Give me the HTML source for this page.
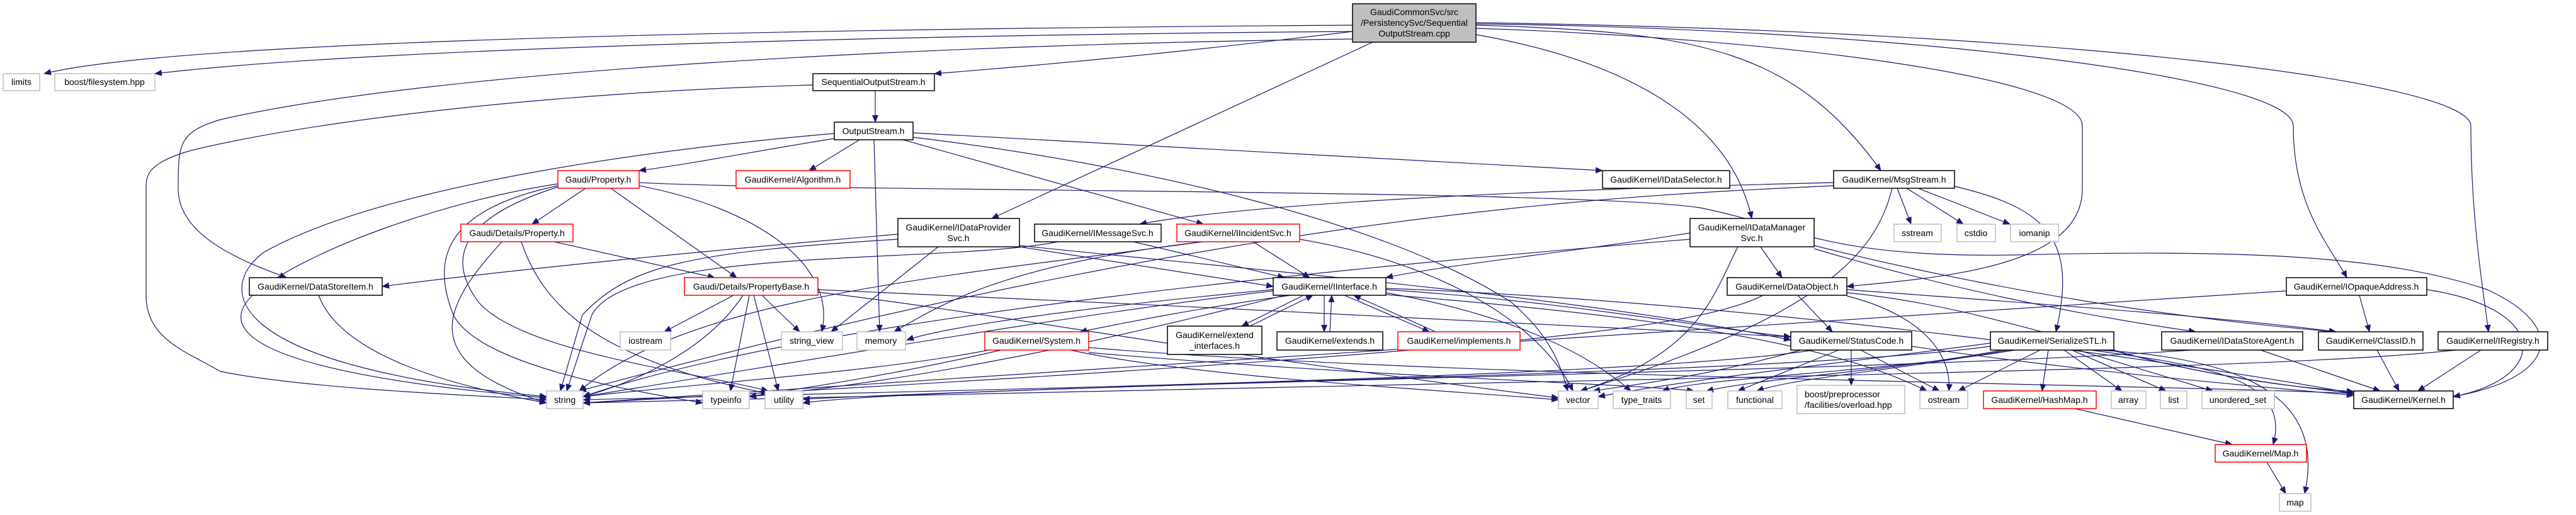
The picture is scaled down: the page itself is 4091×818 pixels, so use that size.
<!DOCTYPE html>
<html><head><meta charset="utf-8"><style>
html,body{margin:0;padding:0;background:#fff;}
svg{display:block;}
text{font-family:"Liberation Sans",sans-serif;font-size:14px;fill:#000;}
.e{fill:none;stroke:#191970;stroke-width:1.2;marker-end:url(#a);}
.g{fill:#fff;stroke:#bfbfbf;stroke-width:1.5;}
.b{fill:#fff;stroke:#000;stroke-width:1.5;}
.r{fill:#fff;stroke:#ff0000;stroke-width:1.5;}
</style></head><body>
<svg width="4091" height="818" viewBox="0 0 4091 818" xmlns="http://www.w3.org/2000/svg">
<defs><marker id="a" markerWidth="12" markerHeight="10" refX="11" refY="5" orient="auto" markerUnits="userSpaceOnUse"><path d="M0,0 L12,5 L0,10 z" fill="#191970"/></marker></defs>
<g>
<!-- edges from main cpp -->
<path class="e" d="M2148,40 C1400,45 300,60 70,117"/>
<path class="e" d="M2148,50 C1500,55 600,75 246,117"/>
<path class="e" d="M2148,62 C1500,70 700,110 350,190 C283,210 283,230 283,300 C283,380 400,420 455,441"/>
<path class="e" d="M2148,50 C1900,80 1700,100 1484,117"/>
<path class="e" d="M2180,67 L1575,347"/>
<path class="e" d="M2344,55 C2600,100 2750,200 2782,347"/>
<path class="e" d="M2344,40 C2700,50 2850,80 2987,271"/>
<path class="e" d="M2344,45 C2800,60 3307,120 3307,200 L3307,300 C3307,420 3100,440 2933,455"/>
<path class="e" d="M2344,38 C3000,45 3642,120 3642,200 C3642,330 3700,390 3727,441"/>
<path class="e" d="M2344,36 C3300,50 3924,130 3924,200 C3924,350 3945,470 3952,527"/>
<!-- SeqOS -->
<path class="e" d="M1390,144 L1390,194"/>
<path class="e" d="M1291,135 C900,145 500,190 300,240 C232,260 232,280 232,300 L232,470 C232,540 300,560 350,590 C500,620 800,630 868,635"/>
<!-- OutputStream -->
<path class="e" d="M1325,220 C1200,240 1100,260 1015,271"/>
<path class="e" d="M1365,222 L1285,271"/>
<path class="e" d="M1388,222 L1397,527"/>
<path class="e" d="M1434,222 L1911,356"/>
<path class="e" d="M1450,211 L2545,271"/>
<path class="e" d="M1450,218 C1800,260 2200,350 2400,480 C2470,540 2480,590 2490,621"/>
<path class="e" d="M1325,212 C1000,240 600,300 420,400 C350,450 330,580 868,630"/>
<!-- Property.h -->
<path class="e" d="M930,299 L845,356"/>
<path class="e" d="M970,299 L1170,441"/>
<path class="e" d="M1015,295 C1200,330 1330,420 1305,527"/>
<path class="e" d="M886,292 C700,320 480,400 400,470 C350,520 380,590 868,632"/>
<path class="e" d="M886,295 C720,330 680,400 720,500 C760,580 1000,620 1116,640"/>
<path class="e" d="M886,297 C750,340 700,400 760,480 C830,560 1100,590 1220,621"/>
<path class="e" d="M1015,290 C1300,305 2500,300 2700,330 C2850,360 2900,410 3200,405 C3600,395 3800,410 3950,460 C4080,520 4060,600 3896,630"/>
<!-- Details/Property -->
<path class="e" d="M880,384 L1135,441"/>
<path class="e" d="M797,384 C720,470 640,570 868,640"/>
<path class="e" d="M828,384 C860,480 940,570 1220,625"/>
<!-- DataStoreItem -->
<path class="e" d="M506,469 C540,560 700,610 868,640"/>
<!-- PropertyBase -->
<path class="e" d="M1165,469 L1055,527"/>
<path class="e" d="M1210,469 L1270,527"/>
<path class="e" d="M1190,469 L1160,621"/>
<path class="e" d="M1197,469 L1236,621"/>
<path class="e" d="M1180,469 C1120,560 1000,610 926,630"/>
<path class="e" d="M1299,460 C1800,480 2500,520 2844,535"/>
<path class="e" d="M1299,464 C1600,500 1900,560 2475,632"/>
<!-- IDataProviderSvc -->
<path class="e" d="M1619,392 L2022,455"/>
<path class="e" d="M1490,392 L1320,527"/>
<path class="e" d="M1426,372 C1100,400 800,430 607,455"/>
<path class="e" d="M1426,380 C1100,400 1000,420 925,500 L890,621"/>
<path class="e" d="M1619,390 C2000,430 2500,470 2844,540"/>
<!-- IMessageSvc -->
<path class="e" d="M1800,384 L2040,441"/>
<path class="e" d="M1680,384 C1500,420 1000,390 940,500 L900,621"/>
<!-- IIncidentSvc -->
<path class="e" d="M1990,384 L2080,441"/>
<path class="e" d="M2064,380 C2300,420 2450,520 2498,621"/>
<path class="e" d="M1910,384 C1600,420 1500,480 1420,527"/>
<path class="e" d="M1910,384 C1500,440 1100,470 920,621"/>
<!-- IDataManagerSvc -->
<path class="e" d="M2684,370 C2500,400 2300,420 2201,441"/>
<path class="e" d="M2796,392 L2830,441"/>
<path class="e" d="M2881,390 C3200,470 3500,510 3710,527"/>
<path class="e" d="M2881,395 C3100,460 3300,500 3487,527"/>
<path class="e" d="M2760,392 C2720,470 2700,560 2510,621"/>
<path class="e" d="M2684,380 C2200,420 1300,500 926,630"/>
<!-- MsgStream -->
<path class="e" d="M3013,299 L3035,356"/>
<path class="e" d="M3028,299 L3118,356"/>
<path class="e" d="M3046,299 L3192,356"/>
<path class="e" d="M3104,296 C3250,330 3300,380 3265,527"/>
<path class="e" d="M2912,290 C2500,300 2000,320 1810,356"/>
<path class="e" d="M2912,295 C2600,310 2000,330 920,621"/>
<path class="e" d="M3005,299 C2980,400 2900,500 2510,621"/>
<!-- DataObject -->
<path class="e" d="M2855,469 L2910,527"/>
<path class="e" d="M2933,460 C3200,480 3500,500 3710,527"/>
<path class="e" d="M2933,470 C3050,500 3100,560 3095,621"/>
<path class="e" d="M2800,469 C2700,520 2400,560 926,640"/>
<path class="e" d="M2933,465 C3200,490 3400,600 3738,622"/>
<!-- IOpaqueAddress -->
<path class="e" d="M3747,469 L3763,527"/>
<path class="e" d="M3854,460 C4050,490 4050,600 3896,630"/>
<path class="e" d="M3631,462 C3200,490 2800,520 926,640"/>
<!-- IRegistry / ClassID / IDataStoreAgent -->
<path class="e" d="M3940,556 L3840,621"/>
<path class="e" d="M3900,556 C3600,590 2600,600 926,640"/>
<path class="e" d="M3775,556 L3810,621"/>
<path class="e" d="M3590,556 L3780,621"/>
<path class="e" d="M3480,556 C3000,590 2000,600 1275,634"/>
<!-- StatusCode -->
<path class="e" d="M2920,556 L2760,621"/>
<path class="e" d="M2940,556 L2940,612"/>
<path class="e" d="M2955,556 L3080,621"/>
<path class="e" d="M3036,550 C3300,590 3600,615 3738,628"/>
<path class="e" d="M2880,556 C2600,600 1500,620 926,635"/>
<path class="e" d="M2860,556 C2700,600 2600,610 2530,621"/>
<!-- SerializeSTL -->
<path class="e" d="M3240,556 L3110,621"/>
<path class="e" d="M3253,556 L3243,621"/>
<path class="e" d="M3278,556 L3370,621"/>
<path class="e" d="M3290,556 L3440,621"/>
<path class="e" d="M3300,556 L3514,621"/>
<path class="e" d="M3320,556 C3500,580 3640,600 3610,706"/>
<path class="e" d="M3330,556 C3600,570 3690,650 3660,784"/>
<path class="e" d="M3357,556 C3500,600 3700,620 3738,625"/>
<path class="e" d="M3161,550 C2800,600 1500,610 1275,640"/>
<path class="e" d="M3161,545 C2900,580 2700,600 2538,630"/>
<path class="e" d="M3180,556 C3000,590 2800,600 2710,621"/>
<path class="e" d="M3200,556 C3000,590 2700,600 2640,621"/>
<path class="e" d="M3190,556 C3000,590 2850,600 2790,621"/>
<!-- HashMap / Map -->
<path class="e" d="M3295,649 L3545,706"/>
<path class="e" d="M3600,734 L3630,784"/>
<!-- IInterface -->
<path class="e" d="M2050,469 C1900,490 1800,510 1715,527"/>
<path class="e" d="M2070,469 L1972,518"/>
<path class="e" d="M1985,518 L2085,469"/>
<path class="e" d="M2103,469 L2103,527"/>
<path class="e" d="M2112,527 L2115,469"/>
<path class="e" d="M2135,469 L2270,527"/>
<path class="e" d="M2280,527 L2150,469"/>
<path class="e" d="M2201,465 C2400,500 2520,560 2590,621"/>
<path class="e" d="M2022,460 C1700,490 1500,520 1440,540"/>
<path class="e" d="M2022,462 C1700,500 1300,570 926,630"/>
<path class="e" d="M2040,469 C1800,530 1500,600 1190,630"/>
<path class="e" d="M2201,460 C2500,480 2700,520 2844,535"/>
<path class="e" d="M2201,458 C2800,480 3500,580 3738,625"/>
<path class="e" d="M2201,468 C2600,500 2900,540 3060,621"/>
<!-- System.h -->
<path class="e" d="M1570,556 C1400,590 1100,610 926,630"/>
<path class="e" d="M1590,556 C1400,600 1250,620 1190,630"/>
<path class="e" d="M1700,556 C1900,600 2300,620 2475,635"/>
<path class="e" d="M1729,552 C2300,600 3400,610 3738,625"/>
<path class="e" d="M1729,560 C2200,600 2600,610 2690,621"/>
</g>
<!-- nodes -->
<g>
<rect class="b" x="2148" y="6" width="196" height="61" fill="#bfbfbf" style="fill:#bfbfbf"/>
<text x="2246" y="24" text-anchor="middle">GaudiCommonSvc/src</text>
<text x="2246" y="41" text-anchor="middle">/PersistencySvc/Sequential</text>
<text x="2246" y="58" text-anchor="middle">OutputStream.cpp</text>

<rect class="g" x="5" y="117" width="58" height="27"/><text x="34" y="135" text-anchor="middle">limits</text>
<rect class="g" x="87" y="117" width="159" height="27"/><text x="166" y="135" text-anchor="middle">boost/filesystem.hpp</text>
<rect class="b" x="1291" y="117" width="193" height="27"/><text x="1387" y="135" text-anchor="middle">SequentialOutputStream.h</text>
<rect class="b" x="1325" y="194" width="125" height="28"/><text x="1387" y="213" text-anchor="middle">OutputStream.h</text>
<rect class="r" x="886" y="271" width="129" height="28"/><text x="950" y="290" text-anchor="middle">Gaudi/Property.h</text>
<rect class="r" x="1169" y="271" width="181" height="28"/><text x="1259" y="290" text-anchor="middle">GaudiKernel/Algorithm.h</text>
<rect class="b" x="2545" y="271" width="202" height="28"/><text x="2646" y="290" text-anchor="middle">GaudiKernel/IDataSelector.h</text>
<rect class="b" x="2912" y="271" width="192" height="28"/><text x="3008" y="290" text-anchor="middle">GaudiKernel/MsgStream.h</text>

<rect class="r" x="732" y="356" width="178" height="28"/><text x="821" y="375" text-anchor="middle">Gaudi/Details/Property.h</text>
<rect class="b" x="1426" y="347" width="193" height="45"/><text x="1522" y="366" text-anchor="middle">GaudiKernel/IDataProvider</text><text x="1522" y="383" text-anchor="middle">Svc.h</text>
<rect class="b" x="1643" y="356" width="201" height="28"/><text x="1743" y="375" text-anchor="middle">GaudiKernel/IMessageSvc.h</text>
<rect class="r" x="1869" y="356" width="195" height="28"/><text x="1966" y="375" text-anchor="middle">GaudiKernel/IIncidentSvc.h</text>
<rect class="b" x="2684" y="347" width="197" height="45"/><text x="2782" y="366" text-anchor="middle">GaudiKernel/IDataManager</text><text x="2782" y="383" text-anchor="middle">Svc.h</text>
<rect class="g" x="3008" y="356" width="75" height="28"/><text x="3045" y="375" text-anchor="middle">sstream</text>
<rect class="g" x="3108" y="356" width="61" height="28"/><text x="3138" y="375" text-anchor="middle">cstdio</text>
<rect class="g" x="3193" y="356" width="76" height="28"/><text x="3231" y="375" text-anchor="middle">iomanip</text>

<rect class="b" x="396" y="441" width="211" height="28"/><text x="501" y="460" text-anchor="middle">GaudiKernel/DataStoreItem.h</text>
<rect class="r" x="1087" y="441" width="212" height="28"/><text x="1193" y="460" text-anchor="middle">Gaudi/Details/PropertyBase.h</text>
<rect class="b" x="2022" y="441" width="179" height="28"/><text x="2111" y="460" text-anchor="middle">GaudiKernel/IInterface.h</text>
<rect class="b" x="2743" y="441" width="190" height="28"/><text x="2838" y="460" text-anchor="middle">GaudiKernel/DataObject.h</text>
<rect class="b" x="3631" y="441" width="223" height="28"/><text x="3742" y="460" text-anchor="middle">GaudiKernel/IOpaqueAddress.h</text>

<rect class="g" x="985" y="527" width="80" height="29"/><text x="1025" y="546" text-anchor="middle">iostream</text>
<rect class="g" x="1241" y="527" width="97" height="29"/><text x="1289" y="546" text-anchor="middle">string_view</text>
<rect class="g" x="1361" y="527" width="77" height="29"/><text x="1399" y="546" text-anchor="middle">memory</text>
<rect class="r" x="1564" y="527" width="165" height="29"/><text x="1646" y="546" text-anchor="middle">GaudiKernel/System.h</text>
<rect class="b" x="1854" y="518" width="150" height="45"/><text x="1929" y="537" text-anchor="middle">GaudiKernel/extend</text><text x="1929" y="554" text-anchor="middle">_interfaces.h</text>
<rect class="b" x="2028" y="527" width="168" height="29"/><text x="2112" y="546" text-anchor="middle">GaudiKernel/extends.h</text>
<rect class="r" x="2220" y="527" width="194" height="29"/><text x="2317" y="546" text-anchor="middle">GaudiKernel/implements.h</text>
<rect class="b" x="2844" y="527" width="192" height="29"/><text x="2940" y="546" text-anchor="middle">GaudiKernel/StatusCode.h</text>
<rect class="b" x="3161" y="527" width="196" height="29"/><text x="3259" y="546" text-anchor="middle">GaudiKernel/SerializeSTL.h</text>
<rect class="b" x="3433" y="527" width="224" height="29"/><text x="3545" y="546" text-anchor="middle">GaudiKernel/IDataStoreAgent.h</text>
<rect class="b" x="3682" y="527" width="166" height="29"/><text x="3765" y="546" text-anchor="middle">GaudiKernel/ClassID.h</text>
<rect class="b" x="3872" y="527" width="174" height="29"/><text x="3959" y="546" text-anchor="middle">GaudiKernel/IRegistry.h</text>

<rect class="g" x="868" y="621" width="58" height="28"/><text x="897" y="640" text-anchor="middle">string</text>
<rect class="g" x="1116" y="621" width="74" height="28"/><text x="1153" y="640" text-anchor="middle">typeinfo</text>
<rect class="g" x="1215" y="621" width="60" height="28"/><text x="1245" y="640" text-anchor="middle">utility</text>
<rect class="g" x="2475" y="621" width="63" height="28"/><text x="2506" y="640" text-anchor="middle">vector</text>
<rect class="g" x="2562" y="621" width="91" height="28"/><text x="2607" y="640" text-anchor="middle">type_traits</text>
<rect class="g" x="2678" y="621" width="41" height="28"/><text x="2698" y="640" text-anchor="middle">set</text>
<rect class="g" x="2744" y="621" width="86" height="28"/><text x="2787" y="640" text-anchor="middle">functional</text>
<rect class="g" x="2854" y="612" width="171" height="45"/><text x="2866" y="631">boost/preprocessor</text><text x="2866" y="648">/facilities/overload.hpp</text>
<rect class="g" x="3049" y="621" width="76" height="28"/><text x="3087" y="640" text-anchor="middle">ostream</text>
<rect class="r" x="3150" y="621" width="179" height="28"/><text x="3239" y="640" text-anchor="middle">GaudiKernel/HashMap.h</text>
<rect class="g" x="3353" y="621" width="55" height="28"/><text x="3380" y="640" text-anchor="middle">array</text>
<rect class="g" x="3431" y="621" width="42" height="28"/><text x="3452" y="640" text-anchor="middle">list</text>
<rect class="g" x="3497" y="621" width="115" height="28"/><text x="3554" y="640" text-anchor="middle">unordered_set</text>
<rect class="b" x="3738" y="621" width="158" height="28"/><text x="3817" y="640" text-anchor="middle">GaudiKernel/Kernel.h</text>

<rect class="r" x="3518" y="706" width="145" height="28"/><text x="3590" y="725" text-anchor="middle">GaudiKernel/Map.h</text>
<rect class="g" x="3620" y="784" width="50" height="28"/><text x="3645" y="803" text-anchor="middle">map</text>
</g>
</svg>
</body></html>
